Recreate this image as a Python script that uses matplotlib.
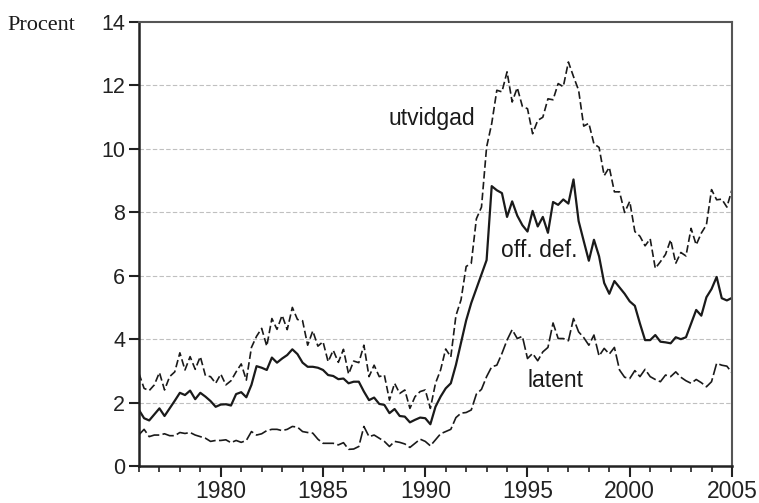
import numpy as np
import matplotlib
matplotlib.use("Agg")
import matplotlib.pyplot as plt
from matplotlib.ticker import MultipleLocator

# quarterly values, 1976Q1 .. 2005Q1 (procent)
utvidgad = [
    2.93, 2.46, 2.39, 2.57,   2.96, 2.41, 2.83, 2.98,   3.58, 3.04, 3.46, 3.06,
    3.46, 2.86, 2.83, 2.62,   2.91, 2.57, 2.70, 2.98,   3.23, 2.72, 3.75, 4.10,
    4.35, 3.79, 4.66, 4.32,   4.76, 4.31, 5.01, 4.63,   4.59, 3.82, 4.27, 3.79,
    3.93, 3.30, 3.66, 3.28,   3.69, 2.91, 3.32, 3.27,   3.82, 2.83, 3.19, 2.83,
    2.88, 2.09, 2.62, 2.30,   2.41, 1.83, 2.20, 2.36,   2.41, 1.83, 2.62, 3.04,
    3.70, 3.45, 4.75, 5.25,   6.30, 6.40, 7.80, 8.17,   10.06, 10.80, 11.85, 11.80,
    12.43, 11.48, 11.93, 11.34,   11.27, 10.48, 10.90, 11.00,   11.58, 11.55, 12.06, 11.96,
    12.74, 12.28, 11.85, 10.72,   10.81, 10.16, 10.05, 9.16,   9.42, 8.65, 8.65, 8.00,
    8.35, 7.40, 7.25, 6.95,   7.17, 6.24, 6.45, 6.68,   7.14, 6.40, 6.74, 6.63,
    7.50, 6.98, 7.35, 7.61,   8.72, 8.40, 8.42, 8.17,   8.72,
]
off_def = [
    1.78, 1.52, 1.45, 1.64,   1.83, 1.59, 1.83, 2.07,   2.32, 2.25, 2.39, 2.12,
    2.32, 2.20, 2.06, 1.88,   1.95, 1.96, 1.92, 2.28,   2.34, 2.18, 2.57, 3.16,
    3.11, 3.04, 3.43, 3.27,   3.40, 3.51, 3.69, 3.54,   3.27, 3.14, 3.14, 3.11,
    3.04, 2.88, 2.85, 2.75,   2.77, 2.62, 2.67, 2.67,   2.36, 2.09, 2.17, 1.97,
    1.94, 1.68, 1.81, 1.59,   1.57, 1.39, 1.47, 1.54,   1.52, 1.33, 1.88, 2.20,
    2.46, 2.62, 3.20, 3.90,   4.60, 5.15, 5.60, 6.05,   6.50, 8.83, 8.70, 8.61,
    7.86, 8.35, 7.90, 7.60,   7.40, 8.05, 7.56, 7.86,   7.36, 8.33, 8.24, 8.41,
    8.28, 9.04, 7.73, 7.10,   6.48, 7.14, 6.62, 5.78,   5.44, 5.84, 5.64, 5.44,
    5.20, 5.06, 4.50, 3.98,   3.98, 4.14, 3.93, 3.91,   3.88, 4.07, 4.01, 4.07,
    4.50, 4.93, 4.75, 5.33,   5.59, 5.97, 5.30, 5.23,   5.31,
]
latent = [
    1.00, 1.17, 0.94, 0.99,   0.99, 1.03, 0.97, 0.97,   1.07, 1.04, 1.07, 0.99,
    0.94, 0.89, 0.79, 0.82,   0.82, 0.84, 0.75, 0.82,   0.76, 0.82, 1.10, 0.99,
    1.03, 1.13, 1.17, 1.17,   1.13, 1.17, 1.26, 1.24,   1.10, 1.07, 1.05, 0.86,
    0.73, 0.73, 0.73, 0.68,   0.75, 0.54, 0.55, 0.63,   1.26, 0.94, 0.99, 0.89,
    0.79, 0.63, 0.79, 0.76,   0.71, 0.60, 0.73, 0.86,   0.79, 0.65, 0.84, 1.03,
    1.10, 1.17, 1.54, 1.68,   1.70, 1.78, 2.28, 2.43,   2.83, 3.14, 3.19, 3.56,
    3.98, 4.31, 4.03, 4.10,   3.40, 3.56, 3.33, 3.61,   3.75, 4.52, 4.03, 4.03,
    3.96, 4.66, 4.24, 4.06,   3.82, 4.14, 3.48, 3.72,   3.54, 3.75, 3.04, 2.81,
    2.77, 3.02, 2.83, 3.06,   2.83, 2.74, 2.67, 2.88,   2.83, 2.98, 2.81, 2.70,
    2.62, 2.74, 2.64, 2.51,   2.67, 3.25, 3.19, 3.16,   2.95,
]
quarters = 1976 + np.arange(len(utvidgad)) / 4

fig = plt.figure(figsize=(7.59, 5.03), dpi=100)
ax = fig.add_axes([0.1831, 0.0726, 0.7813, 0.8837])

ink = "#1a1a1a"
ax.plot(quarters, utvidgad, color=ink, lw=1.2, dashes=(4.5, 2))
ax.plot(quarters, off_def, color=ink, lw=1.6)
ax.plot(quarters, latent, color=ink, lw=1.2, dashes=(7, 2))

ax.set_xlim(1976, 2005)
ax.set_ylim(0, 14)
ax.xaxis.set_major_locator(MultipleLocator(5))
ax.xaxis.set_minor_locator(MultipleLocator(1))
ax.yaxis.set_major_locator(MultipleLocator(2))

for v in range(2, 14, 2):
    ax.axhline(v, color="#c0c0c0", lw=0.8, dashes=(4, 2), zorder=0)

for s in ["left", "bottom"]:
    ax.spines[s].set_color("#222222")
    ax.spines[s].set_linewidth(1.8)
for s in ["top", "right"]:
    ax.spines[s].set_color("#555555")
    ax.spines[s].set_linewidth(1.5)

sans = "Liberation Sans"
ax.tick_params(axis="x", which="major", direction="out", length=8, width=1.5,
               pad=2, labelsize=16.5, colors="#222222")
ax.tick_params(axis="x", which="minor", direction="out", length=4, width=1.2,
               colors="#222222")
ax.tick_params(axis="y", which="major", direction="out", length=7, width=1.5,
               pad=3, labelsize=15.5, colors="#222222")
for lab in ax.get_xticklabels() + ax.get_yticklabels():
    lab.set_fontfamily(sans)

ax.text(1990.31, 10.76, "utvidgad", ha="center", va="baseline", fontsize=16.5,
        family=sans, color=ink)
ax.text(1995.58, 6.6, "off. def.", ha="center", va="baseline", fontsize=16.5,
        family=sans, color=ink)
ax.text(1996.38, 2.5, "latent", ha="center", va="baseline", fontsize=16.5,
        family=sans, color=ink)

fig.text(7 / 759, 1 - 30 / 503, "Procent", ha="left", va="baseline",
         fontsize=16, family="Liberation Serif", color=ink)

fig.savefig("out.png", dpi=100)
